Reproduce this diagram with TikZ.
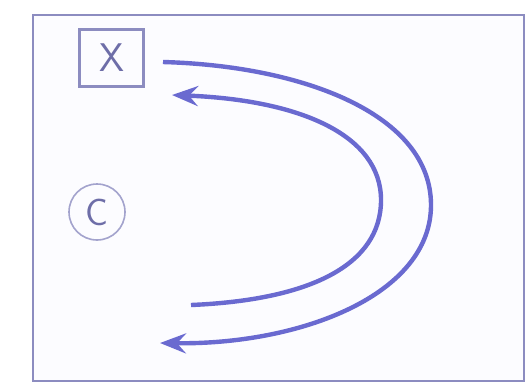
\documentclass[tikz,border=0pt]{standalone}
\usepackage{xcolor}
\usepackage{tikz}
\usetikzlibrary{calc,arrows.meta,positioning}
\definecolor{arcc}{HTML}{6A6AD0}
\definecolor{framec}{HTML}{8C8CC0}
\definecolor{labc}{HTML}{6E6EA8}
\definecolor{paperc}{HTML}{FCFCFF}
\tikzset{
  loopar/.style={-{Stealth[length=26pt,width=20pt,inset=9pt]},line width=4.4pt,arcc},
  tag/.style={draw=framec,line width=2.4pt,minimum width=64pt,minimum height=57pt,inner sep=0pt,font=\sffamily\fontsize{40}{40}\selectfont,text=labc},
  ring/.style={circle,draw=framec!80,line width=1.6pt,minimum size=56pt,inner sep=0pt,font=\sffamily\fontsize{38}{38}\selectfont,text=labc}
}
\begin{document}
\begin{tikzpicture}[x=1pt,y=-1pt]
\useasboundingbox (0,0) rectangle (532,384);
\fill[paperc] (33,15) rectangle (524,381);
\draw[framec,line width=2.6pt] (33,15) rectangle (524,381);
\node[tag] (x) at (111.5,58) {X};
\node[ring] (c) at (97,212) {C};
% outer loop, ends low
\coordinate (outa) at (163,62);
\coordinate (outm) at (431,205);
\coordinate (outb) at (160,343);
\draw[loopar] (outa) .. controls (305,66) and (431,115) .. (outm)
  .. controls (431,295) and (300,345) .. (outb);
% inner loop, ends high
\coordinate (ina) at (191,305);
\coordinate (inm) at (381,200);
\coordinate (inb) at (172,95);
\draw[loopar] (ina) .. controls (310,300) and (381,265) .. (inm)
  .. controls (381,135) and (300,100) .. (inb);
\end{tikzpicture}
\end{document}
